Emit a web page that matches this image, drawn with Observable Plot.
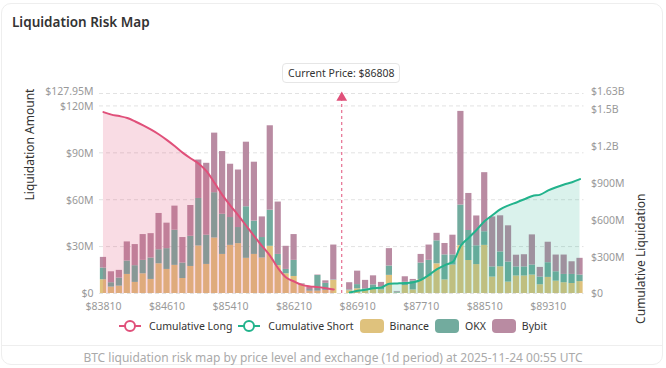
<!DOCTYPE html>
<html><head><meta charset="utf-8">
<script src="https://cdn.jsdelivr.net/npm/d3@7"></script>
<script src="https://cdn.jsdelivr.net/npm/@observablehq/plot@0.6"></script>
<style>
body{margin:0;background:#fff;font-family:"Noto Sans",sans-serif;}
#wrap{position:relative;width:666px;height:368px;overflow:hidden;background:#fff;}
#card{position:absolute;left:1px;top:3px;width:662px;height:362px;border:1px solid #eeeeee;border-radius:10px;box-sizing:border-box;}
#title{position:absolute;left:12px;top:13px;font-size:13.5px;font-weight:600;color:#333;}
#chart{position:absolute;left:0;top:40px;}
#cp{position:absolute;top:63px;height:20px;width:118px;box-sizing:border-box;border:1px solid #e6e6e6;border-radius:4px;background:#fff;font-size:10.5px;color:#333;text-align:center;line-height:18px;}
#legend{position:absolute;left:0;top:318px;width:666px;height:16px;display:flex;justify-content:center;align-items:center;font-size:10.5px;color:#333;}
#legend .it{display:flex;align-items:center;margin:0 3px;}
#legend .sw{width:24px;height:14px;border-radius:4px;margin-right:6px;}
#legend svg{margin-right:8px;}
#sep{position:absolute;left:2px;width:661px;top:345px;border-top:1px solid #eeeeee;}
#caption{position:absolute;left:0;width:666px;top:349px;text-align:center;font-size:12px;color:#aaa;}
</style></head><body>
<div id="wrap">
  <div id="card"></div>
  <div id="title">Liquidation Risk Map</div>
  <div id="chart"></div>
  <div id="cp"></div>
  <div id="legend"></div>
  <div id="sep"></div>
  <div id="caption">BTC liquidation risk map by price level and exchange (1d period) at 2025-11-24 00:55 UTC</div>
</div>
<script>
const prices = ["83810","83910","84010","84110","84210","84310","84410","84510","84610","84710",
  "84810","84910","85010","85110","85210","85310","85410","85510","85610","85710",
  "85810","85910","86010","86110","86210","86310","86410","86510","86610","86710",
  "86808",
  "86810","86910","87010","87110","87210","87310","87410","87510","87610","87710",
  "87810","87910","88010","88110","88210","88310","88410","88510","88610","88710",
  "88810","88910","89010","89110","89210","89310","89410","89510","89610","89710"];
const currentPrice = "86808";
const xTicks = ["83810","84610","85410","86210","86910","87710","88510","89310"];

const exchanges = ["Binance","OKX","Bybit"];
const exchangeColors = ["#dfc27d","#72ab9e","#b98ba2"];
// values in $M
const binance = [8.8,4.1,4.7,12.2,7.1,12.6,9.0,19.0,15.4,18.0,9.6,17.3,30.4,18.6,35.5,25.0,30.8,31.9,22.5,25.0,22.7,30.2,17.8,12.6,10.9,5.5,1.5,1.5,2.0,8.4,
  0,
  1.8,3.0,2.0,3.0,2.3,11.6,0.3,5.1,2.3,9.0,11.0,19.0,8.7,18.2,30.6,21.1,18.5,30.8,10.5,17.1,7.3,11.2,11.2,11.8,5.6,10.3,7.9,6.9,6.4,7.6];
const okx = [7.5,2.8,5.2,8.6,10.7,8.6,13.7,9.0,13.3,22.5,9.9,19.3,30.4,18.7,29.0,25.7,17.8,10.3,33.0,21.3,13.1,23.1,7.2,2.8,10.3,0.3,1.0,10.0,4.5,0.3,
  0,
  0.5,2.7,1.0,2.5,1.7,6.0,0.6,2.1,5.7,10.5,10.2,14.7,16.0,6.5,26.0,19.2,12.0,8.7,6.5,9.5,12.8,5.8,5.8,6.4,4.9,9.4,6.0,5.3,5.8,4.2];
const bybit = [6.8,7.0,4.9,12.2,13.5,16.5,15.6,23.2,16.3,15.4,16.3,19.7,24.6,46.0,38.1,40.1,34.1,36.8,41.3,37.7,13.2,54.0,33.5,14.8,16.5,0.4,1.5,0.3,1.6,22.3,
  0,
  4.6,8.6,5.4,5.8,3.1,11.1,0.4,3.5,1.0,5.5,9.8,4.8,7.3,12.6,59.9,23.7,19.1,37.8,32.0,23.1,23.2,7.5,7.8,19.3,6.2,13.1,10.7,12.4,8.1,10.7];
// cumulative liquidation, $M (right axis)
const cumLong = [1478,1458,1446,1430,1402,1370,1335,1296,1250,1200,1146,1100,1058,995,900,800,715,635,550,465,385,305,205,130,98,70,58,52,43,33,
  null,
  null,null,null,null,null,null,null,null,null,null,null,null,null,null,null,null,null,null,null,null,null,null,null,null,null,null,null,null,null,null];
const cumShort = [null,null,null,null,null,null,null,null,null,null,null,null,null,null,null,null,null,null,null,null,null,null,null,null,null,null,null,null,null,null,
  null,
  8,22,31,42,50,80,82,85,92,112,152,198,232,258,390,455,520,590,640,688,718,742,768,795,806,840,866,888,907,932];

const leftMax = 127.95, rightMax = 1630;
const leftTicks = [0,30,60,90,120];
const leftTickLabels = ["$0","$30M","$60M","$90M","$120M"];
const leftMaxLabel = "$127.95M";
const rightTicks = [0,300,600,900,1200,1500];
const rightTickLabels = ["$0","$300M","$600M","$900M","$1.2B","$1.5B"];
const rightMaxLabel = "$1.63B";
const longColor = "#e0507a", shortColor = "#22b38c";

const RATIO = leftMax / rightMax;
const leftMap = new Map(leftTicks.map((t,i)=>[t,leftTickLabels[i]]));
const rightScaled = rightTicks.map(v=>v*RATIO);
const rightMap = new Map(rightScaled.map((t,i)=>[t,rightTickLabels[i]]));

const rows = [];
prices.forEach((p,i)=>{
  [binance,okx,bybit].forEach((arr,k)=>rows.push({price:p, exchange:exchanges[k], value:arr[i]}));
});
const longRows = prices.map((p,i)=>({price:p, v:cumLong[i]})).filter(d=>d.v!=null);
const shortRows = prices.map((p,i)=>({price:p, v:cumShort[i]})).filter(d=>d.v!=null);

const axisStyle = {tickSize:0, color:"#999", label:null};
const chart = Plot.plot({
  width:666, height:278, marginTop:53, marginBottom:25, marginLeft:99, marginRight:82.5,
  style:{fontFamily:"'Noto Sans', sans-serif", fontSize:"10.5px", background:"transparent", overflow:"visible"},
  x:{type:"band", domain:prices, paddingInner:0.22, paddingOuter:0.11, axis:null},
  y:{domain:[0,leftMax], axis:null},
  color:{domain:exchanges, range:exchangeColors},
  marks:[
    Plot.gridY([...leftTicks, leftMax], {stroke:"#e2e2e2", strokeOpacity:1, strokeDasharray:"4,3"}),
    Plot.barY(rows, {x:"price", y:"value", fill:"exchange", order:exchanges}),
    Plot.areaY(longRows, {x:"price", y:d=>d.v*RATIO, fill:longColor, fillOpacity:0.2, curve:"monotone-x"}),
    Plot.areaY(shortRows, {x:"price", y:d=>d.v*RATIO, fill:shortColor, fillOpacity:0.17, curve:"monotone-x"}),
    Plot.lineY(longRows, {x:"price", y:d=>d.v*RATIO, stroke:longColor, strokeWidth:2, curve:"monotone-x"}),
    Plot.lineY(shortRows, {x:"price", y:d=>d.v*RATIO, stroke:shortColor, strokeWidth:2, curve:"monotone-x"}),
    Plot.ruleX([currentPrice], {x:d=>d, y1:0, y2:124.5, stroke:longColor, strokeDasharray:"3,3", strokeWidth:1}),
    Plot.dot([currentPrice], {x:d=>d, y:125.3, symbol:"triangle", r:4, fill:longColor, stroke:null}),
    Plot.axisY({anchor:"left", ticks:leftTicks, tickFormat:d=>leftMap.get(d), tickPadding:6, dy:0.5, ...axisStyle}),
    Plot.axisY({anchor:"left", ticks:[leftMax], tickFormat:()=>leftMaxLabel, tickPadding:6, dy:-1.5, ...axisStyle}),
    Plot.axisY({anchor:"right", ticks:rightScaled, tickFormat:d=>rightMap.get(d), tickPadding:7, dy:0.5, ...axisStyle}),
    Plot.axisY({anchor:"right", ticks:[leftMax], tickFormat:()=>rightMaxLabel, tickPadding:7, dy:-1.5, ...axisStyle}),
    Plot.axisX({ticks:xTicks, tickFormat:d=>"$"+d, tickPadding:9, ...axisStyle}),
    Plot.text(["Liquidation Amount"], {frameAnchor:"left", rotate:-90, dx:-69, dy:7, fill:"#333", fontSize:12}),
    Plot.text(["Cumulative Liquidation"], {frameAnchor:"right", rotate:-90, dx:57, fill:"#333", fontSize:12})
  ]
});
document.getElementById("chart").appendChild(chart);

const xs = chart.scale("x");
const cx = xs.apply(currentPrice) + xs.bandwidth/2;
const cp = document.getElementById("cp");
cp.style.left = (cx - 59) + "px";
cp.textContent = "Current Price: $" + currentPrice;

const legend = document.getElementById("legend");
function lineIcon(color){
  return `<svg width="22" height="14"><line x1="0" y1="7" x2="22" y2="7" stroke="${color}" stroke-width="2"/><circle cx="11" cy="7" r="5" fill="#fff" stroke="${color}" stroke-width="2"/></svg>`;
}
legend.innerHTML =
  `<div class="it">${lineIcon(longColor)}<span>Cumulative Long</span></div>` +
  `<div class="it">${lineIcon(shortColor)}<span>Cumulative Short</span></div>` +
  exchanges.map((e,i)=>`<div class="it"><div class="sw" style="background:${exchangeColors[i]}"></div><span>${e}</span></div>`).join("");
</script>
</body></html>
